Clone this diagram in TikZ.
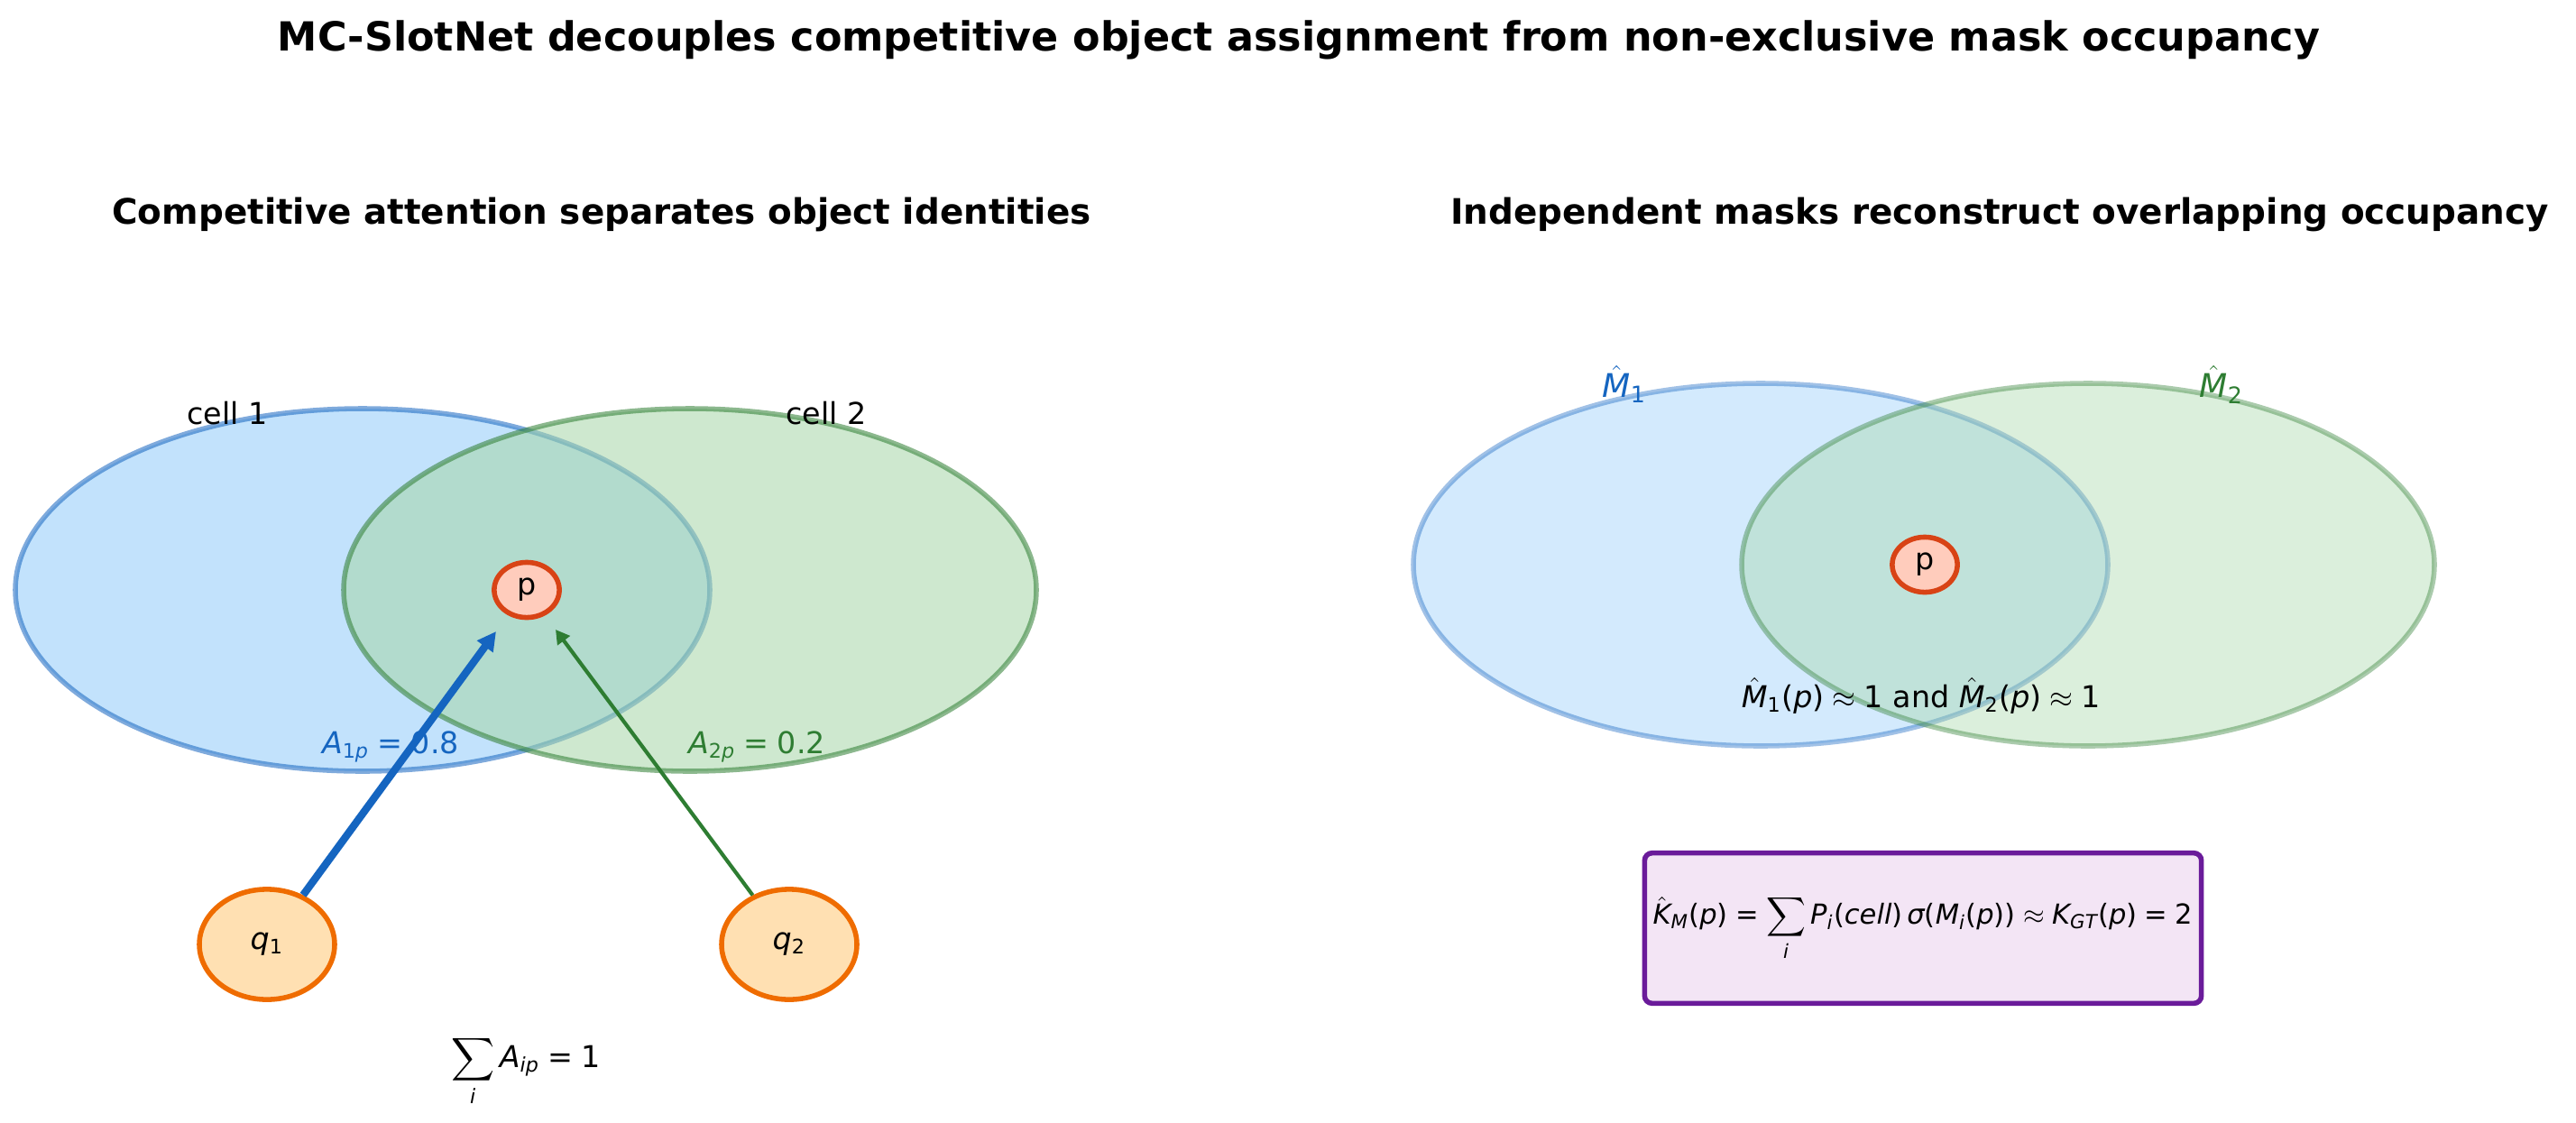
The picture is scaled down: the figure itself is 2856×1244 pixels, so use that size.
\documentclass[tikz,border=0pt]{standalone}
\usepackage{amsmath}
\usepackage[no-math]{fontspec}
\setmainfont{DejaVu Sans}
\newfontfamily\dejavu{DejaVu Sans}[NFSSFamily=dvs]
\DeclareSymbolFont{letters}{TU}{dvs}{m}{it}
\DeclareSymbolFont{operators}{TU}{dvs}{m}{n}
\DeclareSymbolFont{cmoperators}{OT1}{cmr}{m}{n}
\DeclareMathSymbol{.}{\mathord}{operators}{"2E}
\DeclareMathAccent{\hat}{\mathalpha}{cmoperators}{"5E}
\usetikzlibrary{shapes.geometric,arrows.meta}

\definecolor{slotblue}{HTML}{1565C0}
\definecolor{slotbluefill}{HTML}{90CAF9}
\definecolor{slotgreen}{HTML}{2E7D32}
\definecolor{slotgreenfill}{HTML}{A5D6A7}
\definecolor{pixeledge}{HTML}{D84315}
\definecolor{pixelfill}{HTML}{FFCCBC}
\definecolor{queryedge}{HTML}{EF6C00}
\definecolor{queryfill}{HTML}{FFE0B2}
\definecolor{countedge}{HTML}{6A1B9A}
\definecolor{countfill}{HTML}{F3E5F5}

\begin{document}
\begin{tikzpicture}[x=0.36pt, y=-0.36pt, font=\fontsize{12}{14}\selectfont,
    region/.style={draw=#1, fill=#1fill, line width=2pt},
    pixel/.style={ellipse, draw=pixeledge, fill=pixelfill, line width=2pt, inner sep=0pt,
        minimum width=26pt, minimum height=22pt},
    query/.style={ellipse, draw=queryedge, fill=queryfill, line width=2pt, inner sep=0pt,
        minimum width=54pt, minimum height=44pt},
    label/.style={anchor=base, inner sep=0pt},
    heading/.style={anchor=base, inner sep=0pt, font=\bfseries\fontsize{14}{17}\selectfont},
    countbox/.style={rectangle, rounded corners=3pt, draw=countedge, fill=countfill, line width=2pt,
        minimum width=219pt, minimum height=60pt, font=\fontsize{11}{13}\selectfont}]

\useasboundingbox (0,0) rectangle (2856,1244);

\node[anchor=base, inner sep=0pt, font=\bfseries\fontsize{16}{19}\selectfont] (title) at (1440,56)
    {MC-SlotNet decouples competitive object assignment from non-exclusive mask occupancy};
\node[heading] (lefthead) at (667,248) {Competitive attention separates object identities};
\node[heading] (righthead) at (2217,248) {Independent masks reconstruct overlapping occupancy};

\path[region=slotblue, fill opacity=0.55, draw opacity=0.55] (402,654) ellipse [x radius=385, y radius=201];
\path[region=slotgreen, fill opacity=0.55, draw opacity=0.55] (765,654) ellipse [x radius=384, y radius=201];
\node[label] (cellone) at (252,470) {cell 1};
\node[label] (celltwo) at (916,470) {cell 2};
\node[pixel] (p) at (584,654) {p};
\node[query] (q1) at (296,1047) {$q_1$};
\node[query] (q2) at (875,1047) {$q_2$};
\coordinate (tipone) at (550,700);
\coordinate (tiptwo) at (616,698);
\draw[-{Triangle[length=7.5pt,width=7.5pt]}, slotblue, line width=3pt] (q1) -- (tipone);
\draw[-{Triangle[length=5.5pt,width=6pt]}, slotgreen, line width=1.5pt] (q2) -- (tiptwo);
\node[label, text=slotblue] (wone) at (433,835) {$A_{1p}=0.8$};
\node[label, text=slotgreen] (wtwo) at (839,835) {$A_{2p}=0.2$};
\node[label] (norm) at (583,1183) {$\displaystyle\sum_{i}A_{ip}=1$};

\path[region=slotblue, fill opacity=0.4, draw opacity=0.4] (1952,626) ellipse [x radius=385, y radius=201];
\path[region=slotgreen, fill opacity=0.4, draw opacity=0.4] (2315,626) ellipse [x radius=384, y radius=201];
\node[label, text=slotblue, font=\fontsize{13}{15}\selectfont] (mone) at (1801,440) {$\hat{M}_1$};
\node[label, text=slotgreen, font=\fontsize{13}{15}\selectfont] (mtwo) at (2463,440) {$\hat{M}_2$};
\node[pixel] (pm) at (2134,626) {p};
\node[label] (both) at (2130,784) {$\hat{M}_1(p)\approx 1$ and $\hat{M}_2(p)\approx 1$};
\node[countbox] (count) at (2132,1029)
    {$\hat{K}_M(p)=\displaystyle\sum_{i}P_i(cell)\,\textit{σ}(M_i(p))\approx K_{GT}(p)=2$};

\end{tikzpicture}
\end{document}
